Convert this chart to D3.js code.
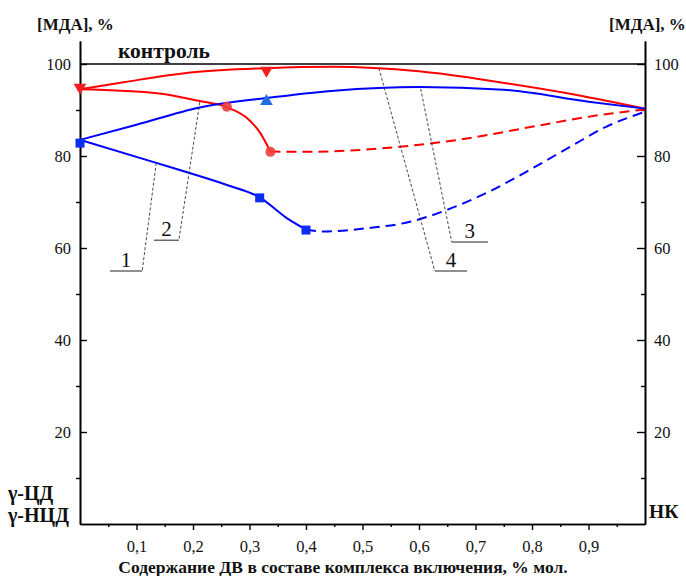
<!DOCTYPE html>
<html>
<head>
<meta charset="utf-8">
<script src="https://cdn.jsdelivr.net/npm/d3@7"></script>
<style>
  body { margin: 0; background: #fff; }
</style>
</head>
<body>
<div id="chart"></div>
<script>
// curve points (x = mol fraction, y = [МДА] %)
const curve1 = [[0, 83.5], [0.135, 78.5], [0.194, 76.3], [0.26, 73.7], [0.318, 71], [0.366, 66.5], [0.4, 64]];
const curve1Dash = [[0.4, 64], [0.43, 63.6], [0.508, 64.3], [0.584, 65.7], [0.65, 68.3], [0.72, 72], [0.802, 77.4], [0.873, 82.4], [0.932, 86.4], [1, 89.6]];
const curve2 = [[0, 94.5], [0.14, 93.6], [0.21, 92], [0.26, 90.6], [0.295, 88.3], [0.318, 85.2], [0.337, 81]];
const curve2Dash = [[0.337, 81], [0.389, 80.9], [0.566, 82], [0.685, 83.8], [0.802, 86.4], [0.92, 88.9], [1, 90.1]];
const curve3 = [[0, 83.5], [0.1, 86.8], [0.21, 90.5], [0.33, 92.6], [0.45, 94.2], [0.6, 95], [0.75, 94.4], [0.9, 91.8], [1, 90.3]];
const curve4 = [[0, 94.5], [0.08, 96.1], [0.2, 98.2], [0.33, 99.1], [0.45, 99.4], [0.6, 98.4], [0.74, 96.1], [0.86, 93.7], [1, 90.3]];

const squares = [[0, 82.8], [0.318, 70.9], [0.4, 63.9]];
const circles = [[0.26, 90.7], [0.337, 80.9]];
const trianglesDown = [[0, 94.9], [0.33, 98.6]];
const trianglesUp = [[0.33, 91.9]];

const xTicks = [0.1, 0.2, 0.3, 0.4, 0.5, 0.6, 0.7, 0.8, 0.9];
const xMinor = [0.05, 0.15, 0.25, 0.35, 0.45, 0.55, 0.65, 0.75, 0.85, 0.95];
const yTicks = [20, 40, 60, 80, 100];
const yMinor = [10, 30, 50, 70, 90];

// callouts: label, point on curve, elbow, end of underline
const callouts = [
  { label: "1", tip: [0.135, 78.5], elbow: [0.11, 55], end: [0.053, 55] },
  { label: "2", tip: [0.212, 91.7], elbow: [0.175, 61.7], end: [0.131, 61.7] },
  { label: "3", tip: [0.603, 94.6], elbow: [0.658, 61.3], end: [0.722, 61.3] },
  { label: "4", tip: [0.529, 99.1], elbow: [0.628, 55], end: [0.685, 55] }
];

const width = 686, height = 576;
const plotLeft = 80, plotRight = 645, plotTop = 41, plotBottom = 524;
const serif = "'Liberation Serif', 'Times New Roman', serif";

const svg = d3.select("#chart").append("svg")
  .attr("width", width).attr("height", height)
  .style("font-family", serif);

const x = d3.scaleLinear().domain([0, 1]).range([plotLeft, plotRight]);
const y = d3.scaleLinear().domain([0, 105]).range([plotBottom, plotTop]);

// axes
const fmt = d => d3.format(".1f")(d).replace(".", ",");
svg.append("g").attr("transform", "translate(0," + plotBottom + ")")
  .call(d3.axisBottom(x).tickValues(xTicks).tickFormat(fmt).tickSize(6).tickPadding(10).tickSizeOuter(0));
svg.append("g").attr("transform", "translate(0," + plotBottom + ")")
  .call(d3.axisBottom(x).tickValues(xMinor).tickFormat("").tickSize(3).tickSizeOuter(0));

const yLeft = svg.append("g").attr("transform", "translate(" + plotLeft + ",0)")
  .call(d3.axisLeft(y).tickValues(yTicks).tickSize(-7).tickPadding(10).tickSizeOuter(0));
svg.append("g").attr("transform", "translate(" + plotLeft + ",0)")
  .call(d3.axisLeft(y).tickValues(yMinor).tickFormat("").tickSize(4).tickSizeOuter(0));

const yRight = svg.append("g").attr("transform", "translate(" + plotRight + ",0)")
  .call(d3.axisRight(y).tickValues(yTicks).tickSize(-8).tickPadding(10).tickSizeOuter(0));
svg.append("g").attr("transform", "translate(" + plotRight + ",0)")
  .call(d3.axisRight(y).tickValues(yMinor).tickFormat("").tickSize(-4).tickSizeOuter(0));

svg.selectAll(".domain").attr("stroke", "#000").attr("stroke-width", 1.6);
svg.selectAll(".tick line").attr("stroke", "#000").attr("stroke-width", 1.4);
svg.selectAll(".tick text").style("font-family", serif)
  .style("font-size", "16.5px").attr("fill", "#111");
yLeft.selectAll(".tick text").attr("x", -9);
yRight.selectAll(".tick text").attr("x", 9);

// control line
svg.append("line")
  .attr("x1", x(0)).attr("x2", x(1)).attr("y1", y(100)).attr("y2", y(100))
  .attr("stroke", "#000").attr("stroke-width", 1.6);

// curves
const line = d3.line().x(d => x(d[0])).y(d => y(d[1])).curve(d3.curveMonotoneX);
const series = [
  { data: curve4, color: "#ff0000", dash: null },
  { data: curve2, color: "#ff0000", dash: null },
  { data: curve2Dash, color: "#ff0000", dash: "10,6" },
  { data: curve3, color: "#0000ff", dash: null },
  { data: curve1, color: "#0000ff", dash: null },
  { data: curve1Dash, color: "#0000ff", dash: "10,6" }
];
svg.selectAll(".curve").data(series).enter().append("path")
  .attr("class", "curve")
  .attr("d", d => line(d.data))
  .attr("fill", "none")
  .attr("stroke", d => d.color)
  .attr("stroke-width", 2)
  .attr("stroke-dasharray", d => d.dash);

// markers
svg.selectAll(".sq").data(squares).enter().append("rect")
  .attr("x", d => x(d[0]) - 4.5).attr("y", d => y(d[1]) - 4.5)
  .attr("width", 9).attr("height", 9).attr("fill", "#0a2ef5");
svg.selectAll(".ci").data(circles).enter().append("circle")
  .attr("cx", d => x(d[0])).attr("cy", d => y(d[1])).attr("r", 5)
  .attr("fill", "#f23c3c").attr("fill-opacity", 0.9);
const tri = d3.symbol().type(d3.symbolTriangle).size(70);
svg.selectAll(".td").data(trianglesDown).enter().append("path")
  .attr("d", tri)
  .attr("transform", d => "translate(" + x(d[0]) + "," + y(d[1]) + ") rotate(180)")
  .attr("fill", "#f21f1f");
svg.selectAll(".tu").data(trianglesUp).enter().append("path")
  .attr("d", tri)
  .attr("transform", d => "translate(" + x(d[0]) + "," + y(d[1]) + ")")
  .attr("fill", "#1f6fe0");

// callouts
const co = svg.selectAll(".co").data(callouts).enter().append("g");
co.append("line")
  .attr("x1", d => x(d.tip[0])).attr("y1", d => y(d.tip[1]))
  .attr("x2", d => x(d.elbow[0])).attr("y2", d => y(d.elbow[1]))
  .attr("stroke", "#333").attr("stroke-width", 0.9).attr("stroke-dasharray", "3,2");
co.append("line")
  .attr("x1", d => x(d.elbow[0])).attr("y1", d => y(d.elbow[1]))
  .attr("x2", d => x(d.end[0])).attr("y2", d => y(d.end[1]))
  .attr("stroke", "#222").attr("stroke-width", 1);
co.append("text")
  .attr("x", d => (x(d.elbow[0]) + x(d.end[0])) / 2)
  .attr("y", d => y(d.elbow[1]) - 4)
  .attr("text-anchor", "middle")
  .style("font-family", serif)
  .style("font-size", "21px")
  .attr("fill", "#111")
  .text(d => d.label);

// titles
const bold = (t, px, py, size, anchor) => svg.append("text")
  .attr("x", px).attr("y", py).attr("text-anchor", anchor || "start")
  .style("font-family", serif)
  .style("font-size", size + "px").style("font-weight", "bold")
  .attr("fill", "#111").text(t);
bold("[МДА], %", 37, 30, 17);
bold("[МДА], %", 609, 30, 17);
bold("контроль", 118, 58, 21.5);
bold("γ-ЦД", 8, 500, 20);
bold("γ-НЦД", 8, 522, 20);
bold("НК", 649, 518, 19.5);
bold("Содержание ДВ в составе комплекса включения, % мол.", 343, 573, 17.5, "middle");
</script>
</body>
</html>
